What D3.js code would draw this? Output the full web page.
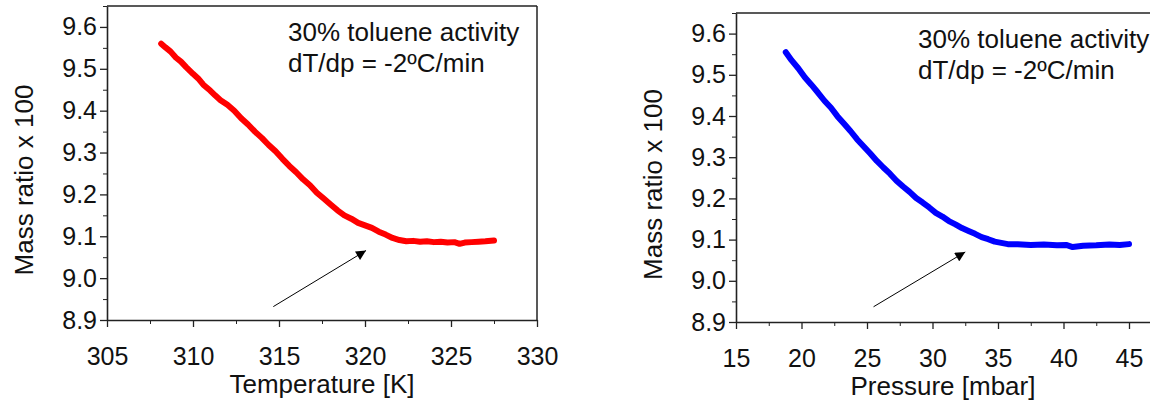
<!DOCTYPE html>
<html>
<head>
<meta charset="utf-8">
<script src="https://cdn.jsdelivr.net/npm/d3@7"></script>
<style>
  body { margin: 0; background: #fff; }
  text { font-family: "Liberation Sans", Arial, Helvetica, sans-serif; fill: #111; }
</style>
</head>
<body>
<div id="chart"></div>
<script>
// temperature run (red)
var tempK = [308.15, 308.4, 308.7, 309.0, 309.3, 309.6, 310.0, 310.3, 310.6, 311.0, 311.3, 311.6, 312.0,
  312.4, 312.8, 313.2, 313.6, 314.0, 314.4, 314.8, 315.2, 315.6, 316.0, 316.4, 316.8, 317.2, 317.6,
  318.0, 318.4, 318.8, 319.2, 319.6, 320.0, 320.4, 320.8, 321.2, 321.6, 322.0, 322.4, 322.8, 323.2,
  323.6, 324.0, 324.4, 324.8, 325.2, 325.5, 325.8, 326.2, 326.6, 327.0, 327.5];
var massT = [9.560, 9.551, 9.541, 9.527, 9.517, 9.504, 9.488, 9.477, 9.462, 9.448, 9.436, 9.425, 9.414,
  9.400, 9.382, 9.367, 9.350, 9.335, 9.318, 9.303, 9.285, 9.268, 9.253, 9.236, 9.222, 9.204, 9.190,
  9.176, 9.162, 9.150, 9.142, 9.132, 9.126, 9.120, 9.111, 9.104, 9.096, 9.091, 9.088, 9.089, 9.087,
  9.088, 9.086, 9.087, 9.085, 9.086, 9.082, 9.085, 9.086, 9.087, 9.088, 9.090];

// pressure run (blue)
var pressMbar = [18.8, 19.25, 19.75, 20.25, 20.75, 21.25, 21.75, 22.25, 22.75, 23.25, 23.75, 24.25, 24.75,
  25.25, 25.75, 26.25, 26.75, 27.25, 27.75, 28.25, 28.75, 29.25, 29.75, 30.25, 30.75, 31.25, 31.75,
  32.25, 32.75, 33.25, 33.75, 34.25, 34.75, 35.25, 35.75, 36.5, 37.5, 38.5, 39.5, 40.2, 40.7, 41.5,
  42.5, 43.5, 44.3, 45.0];
var massP = [9.555, 9.535, 9.516, 9.494, 9.476, 9.457, 9.437, 9.420, 9.399, 9.381, 9.363, 9.343, 9.326,
  9.309, 9.291, 9.275, 9.260, 9.243, 9.229, 9.216, 9.201, 9.190, 9.178, 9.165, 9.156, 9.145, 9.137,
  9.128, 9.121, 9.114, 9.106, 9.101, 9.095, 9.092, 9.089, 9.089, 9.087, 9.088, 9.086, 9.087, 9.082,
  9.085, 9.086, 9.088, 9.087, 9.089];

var yTicks = [8.9, 9.0, 9.1, 9.2, 9.3, 9.4, 9.5, 9.6];
var tempTicks = [305, 310, 315, 320, 325, 330];
var pressTicks = [15, 20, 25, 30, 35, 40, 45];
var noteLines = ["30% toluene activity", "dT/dp = -2ºC/min"];

var W = 1150, H = 401;
var svg = d3.select("#chart").append("svg")
    .attr("width", W).attr("height", H);

svg.append("defs").append("marker")
    .attr("id", "head")
    .attr("viewBox", "0 0 10 10")
    .attr("refX", 10).attr("refY", 5)
    .attr("markerWidth", 11).attr("markerHeight", 10)
    .attr("markerUnits", "userSpaceOnUse")
    .attr("orient", "auto")
    .append("path").attr("d", "M0,0 L10,5 L0,10 Z").attr("fill", "#000");

function panel(cfg) {
    var x = d3.scaleLinear().domain(cfg.xDomain).range([cfg.left, cfg.right]);
    var y = d3.scaleLinear().domain([8.9, 9.65]).range([cfg.bottom, cfg.top]);
    var g = svg.append("g");

    // frame (top + right)
    g.append("line").attr("x1", cfg.left).attr("x2", cfg.right)
        .attr("y1", cfg.top).attr("y2", cfg.top)
        .attr("stroke", "#222").attr("stroke-width", 1.5);
    g.append("line").attr("x1", cfg.right).attr("x2", cfg.right)
        .attr("y1", cfg.top).attr("y2", cfg.bottom)
        .attr("stroke", "#222").attr("stroke-width", 1.5);

    // minor ticks
    var xMinor = d3.range(cfg.xDomain[0] + 2.5, cfg.xDomain[1], 5);
    g.append("g").attr("transform", "translate(0," + cfg.bottom + ")")
        .call(d3.axisBottom(x).tickValues(xMinor).tickSize(4).tickFormat(""))
        .call(a => a.select(".domain").remove());
    g.append("g").attr("transform", "translate(" + cfg.left + ",0)")
        .call(d3.axisLeft(y).tickValues(d3.range(8.95, 9.65, 0.1)).tickSize(4).tickFormat(""))
        .call(a => a.select(".domain").remove());

    var xa = g.append("g").attr("transform", "translate(0," + cfg.bottom + ")")
        .call(d3.axisBottom(x).tickValues(cfg.xTicks).tickSize(7).tickPadding(20).tickSizeOuter(0));
    var ya = g.append("g").attr("transform", "translate(" + cfg.left + ",0)")
        .call(d3.axisLeft(y).tickValues(yTicks).tickSize(7).tickPadding(3).tickSizeOuter(0)
            .tickFormat(d3.format(".1f")));
    [xa, ya].forEach(function (a) {
        a.selectAll("text").style("font-size", "25px").attr("fill", "#111");
        a.selectAll("line").attr("stroke", "#222").attr("stroke-width", 1.3);
        a.select(".domain").attr("stroke", "#222").attr("stroke-width", 1.6);
    });
    g.selectAll("line").attr("stroke", "#222");

    // data curve
    var pts = cfg.xs.map(function (d, i) { return [d, cfg.ys[i]]; });
    g.append("path")
        .datum(pts)
        .attr("d", d3.line().x(d => x(d[0])).y(d => y(d[1])))
        .attr("fill", "none")
        .attr("stroke", cfg.color)
        .attr("stroke-width", 6)
        .attr("stroke-linecap", "round")
        .attr("stroke-linejoin", "round");

    // arrow
    g.append("line")
        .attr("x1", x(cfg.arrow[0])).attr("y1", y(cfg.arrow[1]))
        .attr("x2", x(cfg.arrow[2])).attr("y2", y(cfg.arrow[3]))
        .attr("stroke", "#000").attr("stroke-width", 1)
        .attr("marker-end", "url(#head)");

    // annotation
    var note = g.append("text")
        .attr("x", cfg.noteX).attr("y", cfg.top + 35)
        .style("font-size", "26px");
    noteLines.forEach(function (t, i) {
        note.append("tspan").attr("x", cfg.noteX).attr("dy", i ? 31 : 0).text(t);
    });

    // axis titles
    g.append("text")
        .attr("x", cfg.titleCx).attr("y", cfg.bottom + 73)
        .attr("text-anchor", "middle")
        .style("font-size", "26px")
        .text(cfg.xTitle);
    g.append("text")
        .attr("transform", "translate(" + (cfg.left - 74) + "," + ((cfg.top + cfg.bottom) / 2 + 17) + ") rotate(-90)")
        .attr("text-anchor", "middle")
        .style("font-size", "26px")
        .text("Mass ratio x 100");
}

panel({
    left: 107, right: 537, top: 6, bottom: 320,
    xDomain: [305, 330], xTicks: tempTicks,
    xs: tempK, ys: massT, color: "#ff0000",
    arrow: [314.67, 8.932, 320.06, 9.066],
    noteX: 288, titleCx: 322,
    xTitle: "Temperature [K]"
});

panel({
    left: 736, right: 736 + 32 * 13.1, top: 13, bottom: 322,
    xDomain: [15, 47], xTicks: pressTicks,
    xs: pressMbar, ys: massP, color: "#0000ff",
    arrow: [25.5, 8.937, 32.5, 9.07],
    noteX: 918, titleCx: 943,
    xTitle: "Pressure [mbar]"
});
</script>
</body>
</html>
